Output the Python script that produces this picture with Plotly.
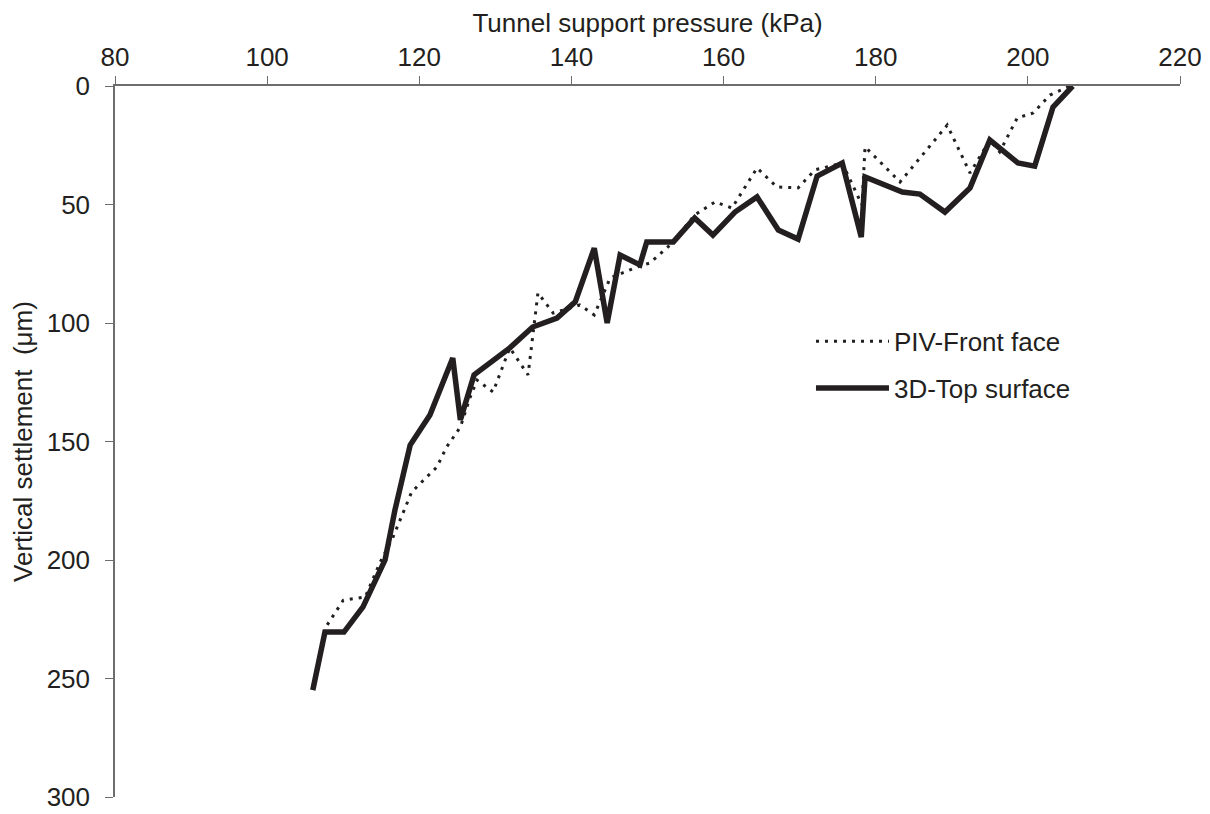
import plotly.graph_objects as go

# 3D-Top surface (solid)
top_x = [106.0, 107.6, 110.1, 112.6, 115.5, 116.8, 118.8, 121.4, 124.4, 125.4, 127.2, 129.7,
         131.9, 134.9, 138.1, 140.5, 143.0, 144.7, 146.4, 149.0, 149.9, 153.4, 156.2, 158.6,
         161.5, 164.4, 167.2, 169.8, 172.3, 175.6, 178.1, 178.6, 183.5, 185.8, 189.1, 192.4,
         195.0, 198.7, 200.9, 203.3, 205.9]
top_y = [254.9, 230.4, 230.4, 219.8, 200.0, 178.9, 151.5, 138.8, 114.8, 140.9, 121.9, 115.6,
         110.5, 101.7, 97.9, 91.1, 68.4, 100.0, 71.3, 75.5, 65.8, 65.8, 55.7, 62.9,
         53.2, 46.8, 60.8, 64.6, 38.0, 32.5, 63.7, 38.4, 44.7, 45.6, 53.2, 43.0,
         22.8, 32.5, 33.8, 8.9, 0.0]

# PIV-Front face (dotted)
piv_x = [107.9, 110.0, 112.9, 114.8, 116.5, 117.9, 119.0, 122.3, 123.6, 125.4, 126.7, 127.6,
         129.7, 131.9, 134.3, 135.6, 137.6, 141.1, 143.0, 145.1, 148.6, 150.3, 153.0, 156.2,
         157.2, 158.9, 161.1, 164.4, 167.0, 169.8, 172.0, 175.6, 178.2, 178.6, 183.2, 189.4,
         192.4, 195.0, 196.3, 198.6, 200.7, 202.9, 205.5]
piv_y = [227.4, 217.0, 215.6, 201.3, 190.7, 180.2, 171.3, 160.8, 152.3, 143.9, 131.2, 124.1,
         129.1, 110.5, 121.9, 87.3, 95.8, 92.4, 96.6, 81.0, 76.4, 74.7, 67.0, 54.4,
         52.3, 48.9, 51.5, 34.6, 42.6, 43.0, 35.4, 32.5, 50.2, 25.7, 40.5, 16.5,
         36.7, 22.8, 27.8, 13.5, 11.4, 3.8, 0.0]

x_ticks = [80, 100, 120, 140, 160, 180, 200, 220]
y_ticks = [0, 50, 100, 150, 200, 250, 300]

INK = "#231f20"
AXIS = "#6d6d6d"
FONT = "Liberation Sans, Arial, sans-serif"
FS = 26

fig = go.Figure()
fig.add_trace(go.Scatter(x=piv_x, y=piv_y, mode="lines", name="PIV-Front face",
                         legendgroup="a",
                         line=dict(color=INK, width=3, dash="3px,6px")))
fig.add_trace(go.Scatter(x=top_x, y=top_y, mode="lines", name="3D-Top surface",
                         legendgroup="b",
                         line=dict(color=INK, width=5.5)))

fig.update_layout(
    width=1210, height=814,
    margin=dict(l=107, r=38, t=78, b=25, autoexpand=False),
    paper_bgcolor="white", plot_bgcolor="white",
    font=dict(family=FONT, size=FS, color=INK),
    showlegend=True,
    legend=dict(x=0.6535, y=0.674, xanchor="left", yanchor="top",
                bgcolor="rgba(0,0,0,0)", itemwidth=73,
                tracegroupgap=10, font=dict(size=FS, color=INK)),
    xaxis=dict(range=[80, 220], side="top", tickvals=x_ticks,
               showline=True, linecolor=AXIS, linewidth=1.5,
               ticks="outside", ticklen=8, tickcolor=AXIS,
               showgrid=False, zeroline=False, automargin=False,
               ticklabeloverflow="allow",
               title=dict(text="Tunnel support pressure (kPa)", standoff=8,
                          font=dict(size=FS)),
               tickfont=dict(size=FS)),
    yaxis=dict(range=[300, 0], tickvals=y_ticks,
               showline=True, linecolor=AXIS, linewidth=1.5,
               ticks="outside", ticklen=8, tickcolor=AXIS,
               showgrid=False, zeroline=False, automargin=False,
               ticklabeloverflow="allow", ticklabelstandoff=10,
               title=dict(text="Vertical settlement  (μm)", standoff=8,
                          font=dict(size=FS)),
               tickfont=dict(size=FS)),
)

fig.write_html("out.html")
